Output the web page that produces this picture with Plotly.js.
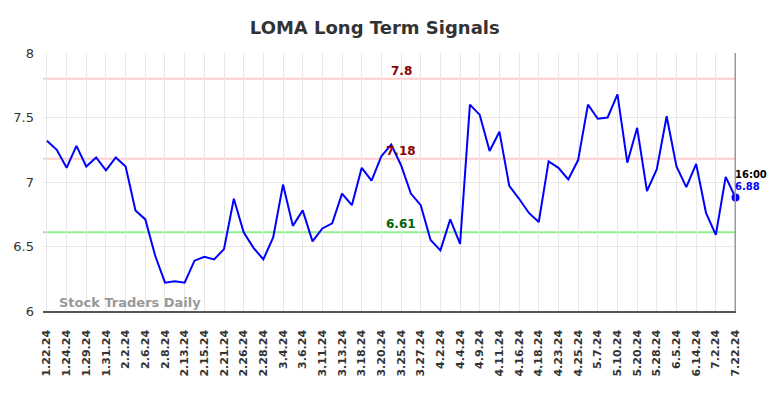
<!DOCTYPE html>
<html><head><meta charset="utf-8">
<script src="https://cdn.plot.ly/plotly-3.0.1.min.js"></script>
<style>html,body{margin:0;padding:0;background:#fff}#chart{width:784px;height:398px}</style>
</head><body><div id="chart"></div>
<script>
const tickLabels = ["1.22.24","1.24.24","1.29.24","1.31.24","2.2.24","2.6.24","2.8.24","2.13.24","2.15.24","2.21.24","2.26.24","2.28.24","3.4.24","3.6.24","3.11.24","3.13.24","3.18.24","3.20.24","3.25.24","3.27.24","4.2.24","4.4.24","4.9.24","4.11.24","4.16.24","4.18.24","4.23.24","4.25.24","5.7.24","5.10.24","5.20.24","5.28.24","6.5.24","6.14.24","7.2.24","7.22.24"];
const values = [7.32,7.25,7.11,7.28,7.12,7.19,7.09,7.19,7.12,6.78,6.71,6.43,6.22,6.23,6.22,6.39,6.42,6.40,6.48,6.87,6.61,6.49,6.40,6.57,6.98,6.66,6.78,6.54,6.64,6.68,6.91,6.82,7.11,7.01,7.20,7.29,7.13,6.91,6.82,6.55,6.47,6.71,6.52,7.60,7.52,7.24,7.39,6.97,6.87,6.76,6.69,7.16,7.11,7.02,7.17,7.60,7.49,7.50,7.68,7.15,7.42,6.93,7.10,7.51,7.12,6.96,7.14,6.76,6.59,7.04,6.88];
const levels = [7.8, 7.18, 6.61];
const levelColors = ["#ffcccc","#ffcccc","#90ee90"];
const levelTextColors = ["#8b0000","#8b0000","#006400"];
const lastTime = "16:00";

const xIdx = values.map((v,i)=>i);
const tickVals = tickLabels.map((t,i)=>i*2);
const n = values.length-1;
const mid = 36;

const shapes = levels.map((lv,i)=>({type:'line',xref:'paper',x0:0,x1:1,yref:'y',y0:lv,y1:lv,line:{color:levelColors[i],width:2},layer:'below'}));
shapes.push({type:'line',xref:'x',x0:n,x1:n,yref:'paper',y0:0,y1:1,line:{color:'#999999',width:2}});

const annotations = levels.map((lv,i)=>({x:mid,y:lv,xref:'x',yref:'y',text:String(lv),showarrow:false,yshift:8,font:{family:'DejaVu Sans',size:12,color:levelTextColors[i],weight:'bold'}}));
annotations.push({x:n,y:values[n],xref:'x',yref:'y',text:lastTime,showarrow:false,xanchor:'left',xshift:-3,yshift:23,font:{family:'DejaVu Sans',size:10,color:'#000',weight:'bold'}});
annotations.push({x:n,y:values[n],xref:'x',yref:'y',text:String(values[n]),showarrow:false,xanchor:'left',xshift:-3,yshift:11,font:{family:'DejaVu Sans',size:10,color:'#0000ff',weight:'bold'}});
annotations.push({xref:'paper',yref:'paper',x:0.02,y:0.0,xanchor:'left',yanchor:'bottom',yshift:-1,text:'Stock Traders Daily',showarrow:false,font:{family:'DejaVu Sans',size:13,color:'#999999',weight:'bold'}});

const traces = [
 {x:xIdx,y:values,type:'scatter',mode:'lines',line:{color:'#0000ff',width:2},hoverinfo:'skip'},
 {x:[n],y:[values[n]],type:'scatter',mode:'markers',cliponaxis:false,marker:{color:'#0000ff',size:8},hoverinfo:'skip'}
];

const layout = {
 width:784,height:398,
 margin:{l:43,r:48,t:53,b:87},
 paper_bgcolor:'#fff',plot_bgcolor:'#fff',
 showlegend:false,
 title:{text:'LOMA Long Term Signals',x:0.478,xanchor:'center',y:0.93,yanchor:'middle',font:{family:'DejaVu Sans',size:18,color:'#333333',weight:'bold'}},
 xaxis:{range:[-0.4,n+0.05],tickvals:tickVals,ticktext:tickLabels,tickangle:-90,showgrid:true,gridcolor:'#e8e8e8',gridwidth:1,zeroline:false,showline:true,linecolor:'#555555',linewidth:1.5,ticks:'',ticklabelstandoff:13,tickfont:{family:'DejaVu Sans',size:11,color:'#333333',weight:'bold'}},
 yaxis:{range:[6,8],tickvals:[6,6.5,7,7.5,8],ticktext:['6','6.5','7','7.5','8'],showgrid:true,gridcolor:'#e8e8e8',zeroline:false,showline:false,ticks:'',ticklabelstandoff:8,tickfont:{family:'DejaVu Sans',size:13,color:'#333333'}},
 shapes:shapes,annotations:annotations
};
Plotly.newPlot('chart',traces,layout,{displayModeBar:false,staticPlot:true});
</script></body></html>
